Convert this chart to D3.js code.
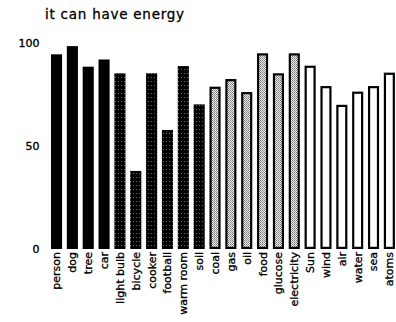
<!DOCTYPE html>
<html>
<head>
<meta charset="utf-8">
<script src="https://cdn.jsdelivr.net/npm/d3@7"></script>
<style>
  html, body { margin: 0; padding: 0; background: #fff; }
  svg { display: block; }
  text { font-family: "DejaVu Sans", sans-serif; fill: #000; }
</style>
</head>
<body>
<svg id="chart" width="396" height="322"></svg>
<script>
const title = "it can have energy";
const categories = ["person", "dog", "tree", "car", "light bulb", "bicycle", "cooker", "football",
  "warm room", "soil", "coal", "gas", "oil", "food", "glucose", "electricity",
  "Sun", "wind", "air", "water", "sea", "atoms"];
const values = [94.5, 98.5, 88.5, 92, 85.3, 37.9, 85.3, 57.8, 88.8, 70.2, 78.8, 82.5, 76.2, 95, 85.3, 95,
  89, 79.1, 70, 76.4, 79.1, 85.6];
const groups = ["solid", "solid", "solid", "solid", "dark", "dark", "dark", "dark", "dark", "dark",
  "light", "light", "light", "light", "light", "light",
  "open", "open", "open", "open", "open", "open"];
const yTicks = [0, 50, 100];

const svg = d3.select("#chart");
const defs = svg.append("defs");

// dark stipple: black with a sparse column of tiny light dots
const pd = defs.append("pattern").attr("id", "darkdot").attr("patternUnits", "userSpaceOnUse")
  .attr("width", 3).attr("height", 4);
pd.append("rect").attr("width", 3).attr("height", 4).attr("fill", "#000");
pd.append("rect").attr("x", 1).attr("y", 1).attr("width", 1).attr("height", 1).attr("fill", "#666");

// light stipple: gray dotted
const pl = defs.append("pattern").attr("id", "lightdot").attr("patternUnits", "userSpaceOnUse")
  .attr("width", 2).attr("height", 2);
pl.append("rect").attr("width", 2).attr("height", 2).attr("fill", "#eee");
pl.append("rect").attr("x", 0).attr("y", 0).attr("width", 1).attr("height", 1).attr("fill", "#777");
pl.append("rect").attr("x", 1).attr("y", 1).attr("width", 1).attr("height", 1).attr("fill", "#999");

const x = d3.scaleBand().domain(categories).range([48.6, 397.3]).paddingInner(0.3).paddingOuter(0.15);
const y = d3.scaleLinear().domain([0, 100]).range([249, 43]);

svg.append("text").attr("x", 45).attr("y", 19).attr("font-size", 13.5).attr("letter-spacing", 0.75)
  .attr("stroke", "#000").attr("stroke-width", 0.3)
  .text(title);

// y tick labels
svg.append("g").selectAll("text").data(yTicks).join("text")
  .attr("x", 39.5).attr("y", d => y(d)).attr("dy", "0.36em")
  .attr("text-anchor", "end").attr("font-size", 11)
  .attr("stroke", "#000").attr("stroke-width", 0.35)
  .text(d => d);

const data = categories.map((c, i) => ({ c, v: values[i], g: groups[i] }));
const sw = 2.2;
const outlined = g => g === "light" || g === "open";

svg.append("g").selectAll("rect").data(data).join("rect")
  .attr("x", d => outlined(d.g) ? x(d.c) + sw / 2 : x(d.c))
  .attr("width", d => outlined(d.g) ? x.bandwidth() - sw : x.bandwidth())
  .attr("y", d => outlined(d.g) ? y(d.v) + sw / 2 : y(d.v))
  .attr("height", d => outlined(d.g) ? y(0) - y(d.v) - sw : y(0) - y(d.v))
  .attr("fill", d => d.g === "solid" ? "#000" : d.g === "dark" ? "url(#darkdot)" : d.g === "light" ? "url(#lightdot)" : "#fff")
  .attr("stroke", d => outlined(d.g) ? "#000" : "none")
  .attr("stroke-width", sw);

// rotated category labels
svg.append("g").selectAll("text").data(categories).join("text")
  .attr("transform", d => `translate(${x(d) + x.bandwidth() / 2},252) rotate(-90)`)
  .attr("dy", "0.36em")
  .attr("text-anchor", "end").attr("font-size", 11)
  .attr("stroke", "#000").attr("stroke-width", 0.3)
  .text(d => d);
</script>
</body>
</html>
